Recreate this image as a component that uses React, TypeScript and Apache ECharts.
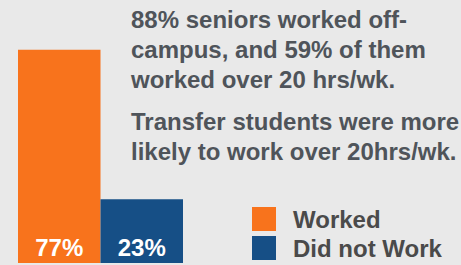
import React, { useEffect, useRef } from "react";
import * as echarts from "echarts";

const categories = ["Worked", "Did not Work"];
const workedValues = [77, "-"];
const notWorkedValues = ["-", 23];
const note1 = "88% seniors worked off-\ncampus, and 59% of them\nworked over 20 hrs/wk.";
const note2 = "Transfer students were more\nlikely to work over 20hrs/wk.";

const ORANGE = "#F8731C";
const BLUE = "#164F86";
const TEXT = "#4F545A";
const FONT = "'Liberation Sans', Arial, Helvetica, sans-serif";

export default function App() {
  const ref = useRef<HTMLDivElement>(null);
  useEffect(() => {
    document.body.style.margin = "0";
    document.body.style.background = "#E9E9E9";
    const chart = echarts.init(ref.current!, null, { renderer: "svg" });
    const labelCfg = {
      show: true,
      position: "insideBottom",
      distance: 4,
      formatter: "{c}%",
      color: "#FFFFFF",
      fontSize: 24,
      fontWeight: "bold",
      fontFamily: FONT,
    };
    chart.setOption({
      animation: false,
      backgroundColor: "#E9E9E9",
      textStyle: { fontFamily: FONT },
      title: [
        {
          text: note1,
          left: 131,
          top: 4,
          padding: 0,
          textStyle: { fontSize: 24, lineHeight: 30, fontWeight: "bold", color: TEXT, fontFamily: FONT },
        },
        {
          text: note2,
          left: 131,
          top: 106,
          padding: 0,
          textStyle: { fontSize: 24, lineHeight: 30, fontWeight: "bold", color: TEXT, fontFamily: FONT },
        },
      ],
      legend: {
        orient: "vertical",
        left: 252,
        top: 207,
        padding: 0,
        itemWidth: 24,
        itemHeight: 24,
        itemGap: 5,
        icon: "rect",
        data: categories,
        textStyle: {
          fontSize: 24,
          fontWeight: "bold",
          color: "#4A4A4A",
          fontFamily: FONT,
          padding: [0, 0, 0, 12],
        },
      },
      grid: { left: 18, right: 278, top: 0, bottom: 2 },
      xAxis: { type: "category", data: categories, show: false },
      yAxis: { type: "value", min: 0, max: 95, show: false },
      series: [
        {
          name: categories[0],
          type: "bar",
          stack: "total",
          barWidth: "100%",
          data: workedValues,
          itemStyle: { color: ORANGE },
          label: labelCfg,
        },
        {
          name: categories[1],
          type: "bar",
          stack: "total",
          barWidth: "100%",
          data: notWorkedValues,
          itemStyle: { color: BLUE },
          label: labelCfg,
        },
      ],
    });
    return () => chart.dispose();
  }, []);
  return (
    <div
      ref={ref}
      style={{ position: "fixed", left: 0, top: 0, width: 461, height: 265, background: "#E9E9E9" }}
    />
  );
}
